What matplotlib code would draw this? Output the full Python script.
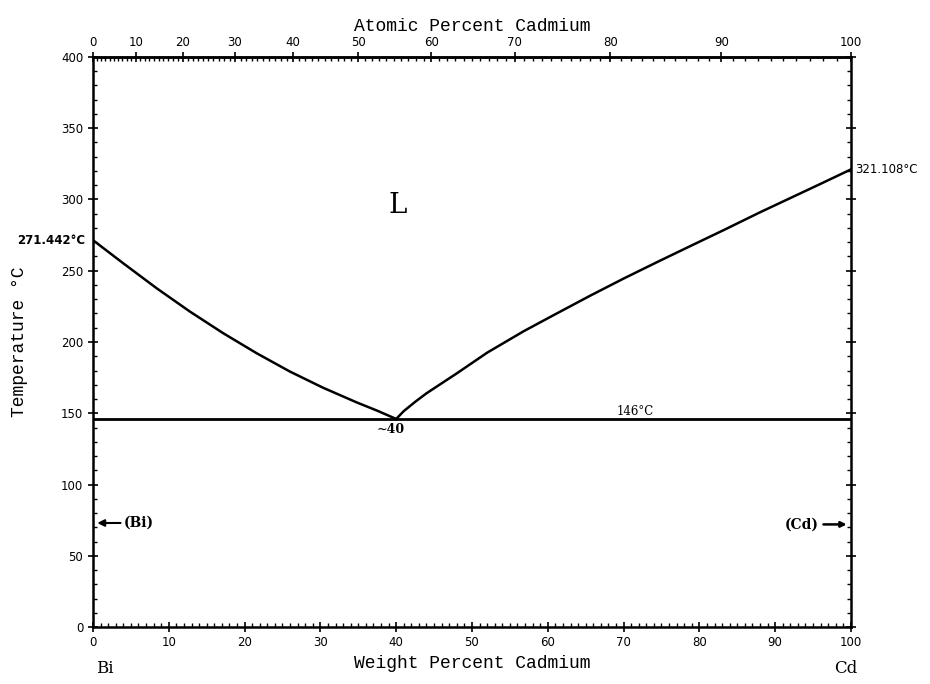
import numpy as np
import matplotlib
matplotlib.use('Agg')
import matplotlib.pyplot as plt
from matplotlib.ticker import MultipleLocator, FixedLocator

# liquidus (weight percent Cd, temperature C)
left_wt = [0, 4.0, 8.4, 12.8, 17.2, 21.6, 26.0, 30.4, 34.8, 37.5, 39.4, 40]
left_T = [271.442, 255.2, 237.7, 221.3, 206.1, 192.1, 179.2, 167.8, 157.6, 151.8, 147.4, 146]
right_wt = [40, 41, 42.5, 44, 46, 48.0, 52, 56.8, 61, 65.6, 70, 74.4, 79, 83.2, 88, 92.0, 96, 100]
right_T = [146, 151.5, 158, 164, 171, 178.0, 192.5, 207.5, 219.5, 232.5, 244.5, 256, 267.8, 278.5, 291, 301, 311, 321.108]
eutectic_wt = [0, 100]
eutectic_T = [146, 146]

at_ticks = [0, 10, 20, 30, 40, 50, 60, 70, 80, 90, 100]
M_BI = 208.98
M_CD = 112.41


def wt_to_at(w):
    w = np.clip(np.asarray(w, dtype=float), 0, 100)
    n_cd = w / M_CD
    n_bi = (100 - w) / M_BI
    return 100 * n_cd / (n_cd + n_bi)


def at_to_wt(a):
    a = np.clip(np.asarray(a, dtype=float), 0, 100)
    m_cd = a * M_CD
    m_bi = (100 - a) * M_BI
    return 100 * m_cd / (m_cd + m_bi)


fig = plt.figure(figsize=(9.3, 6.84), dpi=100)
ax = fig.add_axes([0.1, 0.0833, 0.815, 0.8334])

ax.plot(left_wt, left_T, color='black', lw=1.8)
ax.plot(right_wt, right_T, color='black', lw=1.8)
ax.plot(eutectic_wt, eutectic_T, color='black', lw=2.0)

ax.set_xlim(0, 100)
ax.set_ylim(0, 400)
for s in ax.spines.values():
    s.set_linewidth(1.8)

ax.xaxis.set_major_locator(MultipleLocator(10))
ax.xaxis.set_minor_locator(MultipleLocator(1))
ax.yaxis.set_major_locator(MultipleLocator(50))
ax.yaxis.set_minor_locator(MultipleLocator(10))
ax.tick_params(which='major', direction='inout', length=7, width=1.2,
               right=True, labelsize=8.5)
ax.tick_params(which='minor', direction='in', length=3, width=1.0, right=True)
ax.tick_params(axis='x', which='major', pad=3)
for lab in ax.get_xticklabels() + ax.get_yticklabels():
    lab.set_family('DejaVu Sans')

top = ax.secondary_xaxis('top', functions=(wt_to_at, at_to_wt))
top.xaxis.set_major_locator(FixedLocator(at_ticks))
top.xaxis.set_minor_locator(FixedLocator(np.arange(0, 101, 1)))
top.tick_params(which='major', direction='inout', length=7, width=1.2, labelsize=8.5, pad=2)
top.tick_params(which='minor', direction='in', length=3, width=1.0)
top.spines['top'].set_linewidth(1.8)

lab_font = dict(family='Liberation Mono', size=13)
top.set_xlabel('Atomic Percent Cadmium', labelpad=4, **lab_font)
ax.set_xlabel('Weight Percent Cadmium', labelpad=4, **lab_font)
ax.set_ylabel('Temperature °C', labelpad=24, **lab_font)

xtrans = ax.get_xaxis_transform()
ax.text(1.5, -0.058, 'Bi', transform=xtrans, fontsize=12, ha='center', va='top', family='DejaVu Serif')
ax.text(99.3, -0.058, 'Cd', transform=xtrans, fontsize=12, ha='center', va='top', family='DejaVu Serif')

ax.text(40.2, 296, 'L', fontsize=20, ha='center', va='center', family='DejaVu Serif')
ax.text(-1.0, 271.442, '271.442°C', fontsize=8.5, weight='bold', ha='right', va='center',
        family='DejaVu Sans')
ax.text(100.5, 321.108, '321.108°C', fontsize=8.5, ha='left', va='center', family='DejaVu Sans')
ax.text(39.3, 143, '~40', fontsize=9, weight='bold', ha='center', va='top', family='DejaVu Serif')
ax.text(71.5, 147, '146°C', fontsize=8.5, ha='center', va='bottom', family='DejaVu Serif')

ax.annotate('', xy=(0.2, 73), xytext=(4.0, 73),
            arrowprops=dict(arrowstyle='-|>', color='black', lw=1.5, mutation_scale=10))
ax.text(4.0, 73, '(Bi)', fontsize=10, weight='bold', ha='left', va='center', family='DejaVu Serif')
ax.annotate('', xy=(99.8, 72), xytext=(96.0, 72),
            arrowprops=dict(arrowstyle='-|>', color='black', lw=1.8, mutation_scale=8))
ax.text(95.8, 72, '(Cd)', fontsize=10, weight='bold', ha='right', va='center', family='DejaVu Serif')

fig.savefig('out.png', dpi=100)
